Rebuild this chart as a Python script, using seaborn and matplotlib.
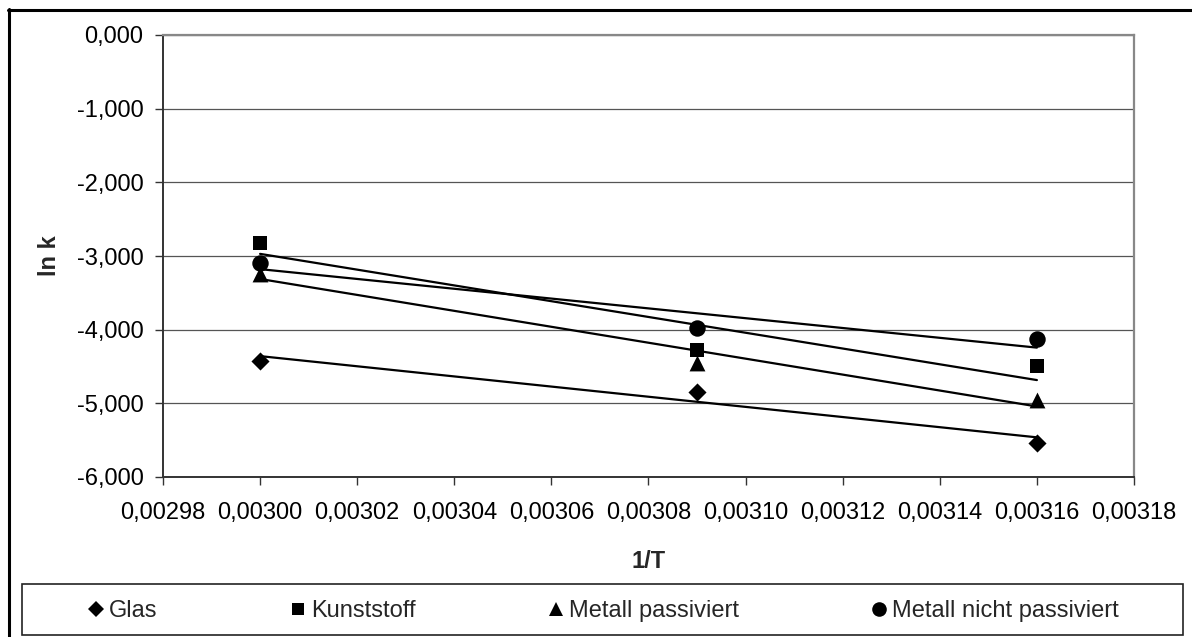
import numpy as np
import pandas as pd
import matplotlib
matplotlib.use("Agg")
import matplotlib.pyplot as plt
from matplotlib.lines import Line2D
from matplotlib.patches import Rectangle
from matplotlib.ticker import FuncFormatter
import seaborn as sns

# Reciprocal temperature (1/K)
inv_T = [0.00300, 0.00309, 0.00316]

# ln k per vessel material
ln_k_glas = [-4.42, -4.84, -5.54]
ln_k_kunststoff = [-2.82, -4.28, -4.49]
ln_k_metall_passiviert = [-3.24, -4.45, -4.95]
ln_k_metall_nicht_passiviert = [-3.09, -3.98, -4.13]

series_names = ["Glas", "Kunststoff", "Metall passiviert", "Metall nicht passiviert"]
series_values = [ln_k_glas, ln_k_kunststoff, ln_k_metall_passiviert, ln_k_metall_nicht_passiviert]
series_markers = ["D", "s", "^", "o"]
series_sizes = [85, 105, 130, 140]

x_ticks = [0.00298, 0.00300, 0.00302, 0.00304, 0.00306, 0.00308,
           0.00310, 0.00312, 0.00314, 0.00316, 0.00318]
y_ticks = [0.0, -1.0, -2.0, -3.0, -4.0, -5.0, -6.0]

sns.set_theme(style="white")
plt.rcParams["font.family"] = ["Liberation Sans", "DejaVu Sans"]
plt.rcParams["axes.unicode_minus"] = False

FS = 17

W, H = 1192, 637
fig = plt.figure(figsize=(W / 100, H / 100), dpi=100)
fig.patch.set_facecolor("white")

left, right, top, bottom = 163, 1134, 35, 477
ax = fig.add_axes([left / W, 1 - bottom / H, (right - left) / W, (bottom - top) / H])

for name, vals, mk, sz in zip(series_names, series_values, series_markers, series_sizes):
    df = pd.DataFrame({"inv_T": inv_T, "ln_k": vals})
    sns.regplot(data=df, x="inv_T", y="ln_k", ax=ax, ci=None, truncate=True,
                marker=mk, color="black",
                scatter_kws={"s": sz, "linewidths": 0, "alpha": 1, "zorder": 3},
                line_kws={"lw": 1.6, "color": "black", "zorder": 4})

ax.set_xlim(0.00298, 0.00318)
ax.set_ylim(-6.0, 0.0)
ax.set_xticks(x_ticks)
ax.set_yticks(y_ticks)
ax.xaxis.set_major_formatter(FuncFormatter(lambda v, p: f"{v:.5f}".replace(".", ",")))
ax.yaxis.set_major_formatter(FuncFormatter(lambda v, p: f"{v:.3f}".replace(".", ",")))

ax.grid(axis="y", color="#555555", lw=0.9)
ax.grid(axis="x", visible=False)
ax.set_axisbelow(True)

for side in ["top", "right"]:
    ax.spines[side].set_color("#888888")
    ax.spines[side].set_linewidth(1.6)
for side in ["left", "bottom"]:
    ax.spines[side].set_color("#333333")
    ax.spines[side].set_linewidth(1.4)

ax.tick_params(axis="both", which="major", direction="out", length=6, width=1,
               color="#333333", labelsize=FS, labelcolor="black")
ax.tick_params(axis="y", pad=8, left=True)
ax.tick_params(axis="x", pad=12, bottom=True)

ax.set_xlabel("1/T", fontsize=FS, fontweight="bold", labelpad=19)
ax.set_ylabel("ln k", fontsize=FS, fontweight="bold", labelpad=11)

# Outer chart border (left and top edges)
fig.add_artist(Line2D([8.5 / W, 8.5 / W], [0, 1 - 9 / H], transform=fig.transFigure,
                      color="black", lw=2.2))
fig.add_artist(Line2D([8 / W, 1], [1 - 9.5 / H, 1 - 9.5 / H], transform=fig.transFigure,
                      color="black", lw=2.2))

# Legend frame
fig.add_artist(Rectangle((22 / W, 1 - 635 / H), (1183 - 22) / W, (635 - 584) / H,
                         transform=fig.transFigure, fill=False, edgecolor="#222222", lw=1.2))

handles = [Line2D([], [], linestyle="none", marker=mk, color="black",
                  markersize=ms, markeredgewidth=0)
           for mk, ms in zip(series_markers, [8.5, 9, 10, 10.5])]
fig.legend(handles, series_names, loc="center", ncol=4, mode="expand",
           bbox_to_anchor=(88 / W, 1 - 630 / H, (1119 - 88) / W, (630 - 592) / H),
           frameon=False, fontsize=FS, handlelength=0.7, handletextpad=0.2,
           borderpad=0, borderaxespad=0)

fig.savefig("out.png", dpi=100, facecolor="white")
